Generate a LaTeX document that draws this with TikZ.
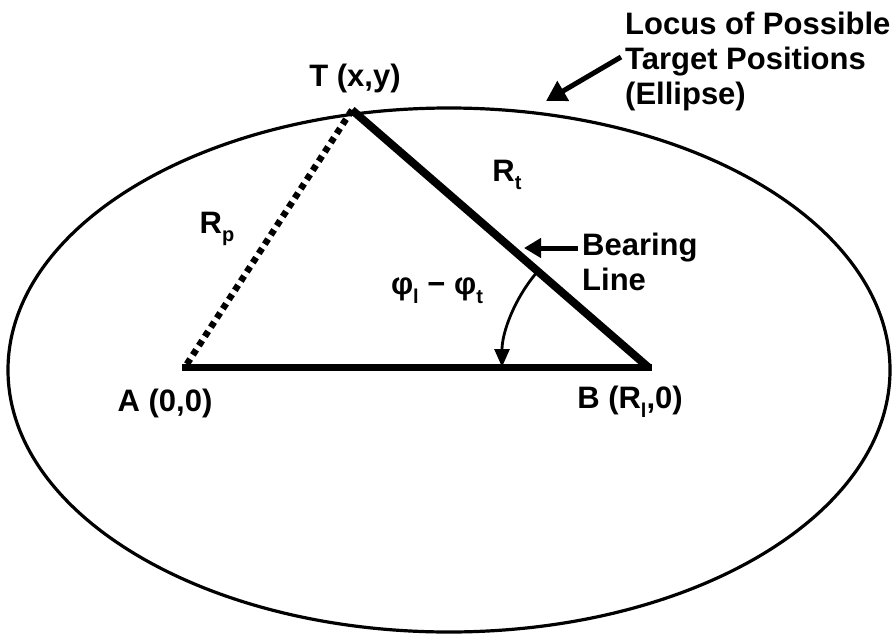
\documentclass[tikz,border=0pt]{standalone}
\usepackage{fontspec}
\setmainfont{Liberation Sans}
\usetikzlibrary{arrows.meta,calc}
\newcommand{\sbs}[1]{\raisebox{-0.28em}{\fontsize{20}{20}\selectfont #1}}
\begin{document}
\begin{tikzpicture}[x=1pt,y=-1pt,
  lbl/.style={inner sep=0pt, font=\fontsize{31}{35}\selectfont\bfseries},
  thinline/.style={line width=3.2pt},
  heavy/.style={line width=8pt},
  base/.style={line width=7pt},
  dots/.style={line width=6.5pt, dash pattern=on 6pt off 5pt},
  pointer/.style={line width=5pt, -{Triangle[length=20pt,width=22pt]}},
  bpointer/.style={line width=5pt, -{Triangle[length=17pt,width=19pt]}},
  angarrow/.style={line width=2.8pt, -{Triangle[length=18pt,width=15pt]}}]
\useasboundingbox (0,0) rectangle (896,637);
% ellipse
\draw[thinline] (449,370) ellipse [x radius=441pt, y radius=262pt];
% points
\coordinate (A) at (185,367);
\coordinate (B) at (648,367);
\coordinate (T) at (352,110);
% sides
\draw[base, line cap=rect] (A) -- (B);
\draw[heavy, line cap=butt] (T) -- (B);
\draw[dots] (T) -- (A);
% angle arc
\coordinate (arcS) at ($(B)+(140:146pt)$);
\draw[angarrow] (arcS) arc[start angle=140, end angle=180, radius=146pt];
% labels
\node[lbl] (Tl) at (355,78) {T (x,y)};
\node[lbl] (Al) at (165,403) {A (0,0)};
\node[lbl] (Bl) at (630,402) {B (R\sbs{l},0)};
\node[lbl] (Rt) at (507,175) {R\sbs{t}};
\node[lbl] (Rp) at (217,229) {R\sbs{p}};
\node[lbl] (phi) at (437,291) {φ\sbs{l} − φ\sbs{t}};
\node[lbl, anchor=north west, align=left] (bear) at (582,233) {Bearing\\Line};
\coordinate (bearTail) at (578,248);
\coordinate (bearTip) at (524,248);
\draw[bpointer] (bearTail) -- (bearTip);
\node[lbl, anchor=north west, align=left] (locus) at (625,12) {Locus of Possible\\Target Positions\\(Ellipse)};
\coordinate (locTail) at (621,57);
\coordinate (locTip) at (546,101);
\draw[pointer] (locTail) -- (locTip);
\end{tikzpicture}
\end{document}
